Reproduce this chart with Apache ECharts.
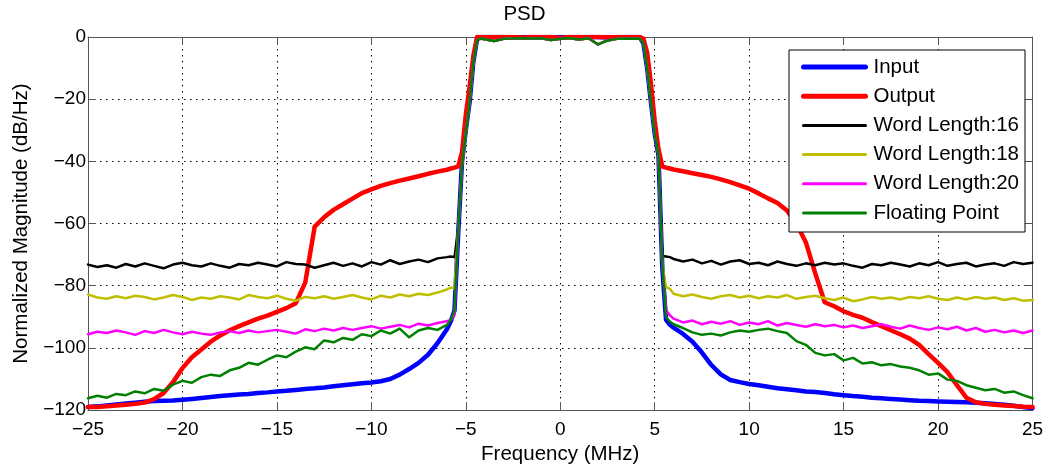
<!DOCTYPE html>
<html>
<head>
<meta charset="utf-8">
<script src="https://cdn.jsdelivr.net/npm/echarts@6/dist/echarts.min.js"></script>
<style>html,body{margin:0;padding:0;background:#fff}#c{width:1049px;height:470px}</style>
</head>
<body>
<div id="c"></div>
<script>
const freq = [
  -25,-24.5,-24,-23.5,-23,-22.5,-22,-21.5,-21,-20.5,-20,-19.5,-19,-18.5,-18,-17.5,-17,-16.5,-16,-15.5,
  -15,-14.5,-14,-13.5,-13,-12.5,-12,-11.5,-11,-10.5,-10,-9.5,-9,-8.5,-8,-7.5,-7,-6.5,-6,
  -5.8,-5.6,-5.4,-5.2,-5,-4.8,-4.6,-4.4,-4.2,-4,
  -3.5,-3,-2.5,-2,-1.5,-1,-0.5,0,0.5,1,1.5,2,2.5,3,3.5,
  4,4.2,4.4,4.6,4.8,5,5.2,5.4,5.6,5.8,
  6,6.5,7,7.5,8,8.5,9,9.5,10,10.5,11,11.5,12,12.5,13,13.5,14,14.5,15,15.5,
  16,16.5,17,17.5,18,18.5,19,19.5,20,20.5,21,21.5,22,22.5,23,23.5,24,24.5,25
];

const inputPSD = [
  -119,-118.8,-118.5,-118.2,-117.9,-117.6,-117.3,-117.1,-117,-116.9,-116.7,-116.4,-116.1,-115.8,-115.5,-115.2,-115,-114.8,-114.5,-114.3,
  -114,-113.8,-113.5,-113.2,-113,-112.7,-112.3,-112,-111.7,-111.4,-111.1,-110.7,-110,-108.6,-106.8,-104.8,-102.2,-98.5,-94,
  -91.5,-88,-63,-40,-30,-21,-8,-0.5,0,0,
  0,0,-0.2,0,0,-0.1,0,0,0,-0.1,0,0,-0.2,0,0,
  0,0,-2,-10,-21,-31,-38,-74,-91,-92.5,
  -93.5,-95.5,-98,-101.5,-105.5,-108.5,-110.3,-111,-111.6,-112,-112.5,-113,-113.3,-113.6,-114,-114.2,-114.5,-114.9,-115.2,-115.5,
  -115.7,-116,-116.2,-116.4,-116.6,-116.8,-117,-117.1,-117.2,-117.3,-117.4,-117.5,-117.6,-117.8,-118,-118.3,-118.6,-119,-119.4
];

const outputPSD = [
  -119,-119,-118.8,-118.5,-118.3,-118,-117.6,-116.5,-114.5,-111,-106.5,-103,-100.5,-98,-96,-94.3,-93,-91.8,-90.6,-89.6,
  -88.4,-87.2,-85.6,-79,-61,-58,-55.6,-53.8,-52,-50.2,-49,-47.9,-47,-46.2,-45.5,-44.8,-44,-43.3,-42.7,
  -42.3,-42,-41.6,-37,-25,-16,-6,0,0,0,
  0,0,0,-0.2,0,0,0,-0.3,0,0,0,0,0,-0.1,0,
  0,0,-0.5,-5,-15,-27,-36,-41.6,-42,-42.3,
  -42.6,-43.2,-43.8,-44.4,-45,-45.8,-46.7,-47.7,-48.8,-50.3,-51.9,-53.4,-55.8,-60,-66,-76,-85.3,-86.6,-88.2,-89.4,
  -90.3,-91.7,-93,-94.3,-95.6,-97,-99,-102,-104.8,-107.8,-112,-116,-117.5,-118,-118.3,-118.5,-118.7,-118.9,-119
];

const wl16PSD = [
  -73.2,-74,-73.4,-74.2,-73,-73.8,-72.8,-73.6,-74.4,-73.2,-72.6,-73.4,-73.8,-72.8,-73.6,-74.2,-73,-73.4,-72.6,-73.2,
  -73.8,-72.4,-73,-73.2,-74.2,-73.4,-72.6,-73.6,-72.8,-73.8,-72.4,-73.2,-71.8,-73,-72.2,-71.6,-72.4,-71.2,-70.8,
  -70.6,-70.8,-62,-41,-31,-21,-8,-1,-0.5,-0.7,
  -1.3,-0.6,-0.5,-0.4,-0.5,-0.4,-1.0,-0.6,-0.4,-0.8,-0.4,-2.4,-1.1,-0.6,-0.5,
  -0.6,-0.5,-2,-10,-21,-31,-38,-70.4,-70.6,-70.8,
  -71.4,-72.2,-71.6,-72.8,-72,-73.2,-72.2,-71.8,-73,-72.6,-73.4,-72.2,-73,-73.6,-72.8,-73.4,-72.6,-73.2,-72.8,-73.6,
  -74.2,-73,-73.4,-72.6,-73.2,-73.8,-72.8,-73.4,-72.4,-73.6,-73,-72.6,-73.8,-73.2,-72.8,-73.6,-72.4,-73,-72.6
];

const wl18PSD = [
  -82.8,-83.8,-84.2,-83.4,-84,-83.2,-83.6,-84.4,-83.8,-83,-83.6,-84.6,-83.8,-84.2,-83.4,-83.8,-84.4,-83,-83.6,-84,
  -83.2,-84.2,-84.8,-83.6,-84,-83.4,-84.2,-83.6,-83,-83.8,-84.4,-83.2,-83.8,-82.8,-83.4,-82.6,-83,-82.2,-81.2,
  -80.6,-80.8,-62,-41,-31,-21,-8,-1,-0.5,-0.7,
  -1.3,-0.6,-0.5,-0.4,-0.5,-0.4,-1.0,-0.6,-0.4,-0.8,-0.4,-2.4,-1.1,-0.6,-0.5,
  -0.6,-0.5,-2,-10,-21,-31,-38,-73,-80.4,-81,
  -82.6,-83.4,-82.8,-83.6,-84.2,-83.4,-83,-83.8,-83.2,-84,-83.4,-83.8,-83,-84.2,-83.6,-83.2,-84,-84.6,-83.8,-85,
  -84.4,-83.6,-84.2,-83.8,-84.4,-83.6,-84,-83.4,-84.2,-84.6,-83.8,-84.4,-83.6,-84.2,-83.8,-84.6,-84,-84.8,-84.6
];

const wl20PSD = [
  -95.6,-94.8,-95.2,-94.4,-95,-95.8,-94.6,-95.2,-94.2,-95,-95.6,-94.8,-95.4,-95.8,-95,-94.6,-95.2,-94.4,-95,-94.6,
  -94.2,-94.8,-95.4,-94,-94.6,-93.8,-94.4,-93.6,-94.2,-93.6,-93,-93.8,-93.2,-92.6,-93.4,-92.2,-92.8,-92,-91.4,
  -91,-89.5,-62,-41,-31,-21,-8,-1,-0.5,-0.7,
  -1.3,-0.6,-0.5,-0.4,-0.5,-0.4,-1.0,-0.6,-0.4,-0.8,-0.4,-2.4,-1.1,-0.6,-0.5,
  -0.6,-0.5,-2,-10,-21,-31,-38,-73,-87.8,-89.5,
  -90.6,-91.8,-91.2,-92.4,-91.6,-92.2,-91.4,-92.6,-91.8,-92.4,-91.4,-92.8,-92,-92.6,-93.2,-92.4,-93,-92.6,-93.4,-92.8,
  -93.6,-93,-92.4,-93.2,-93.8,-92.8,-93.6,-94.2,-93.4,-94,-93.2,-94.4,-93.6,-94.8,-94.2,-95,-94.4,-95.2,-94.4
];

const floatPSD = [
  -116.2,-115.4,-116,-114.8,-115.2,-114,-114.6,-113.2,-113.8,-111.8,-110.6,-111.2,-109.4,-108.6,-109,-107.2,-106.4,-104.8,-105.4,-103.8,
  -102.4,-103,-101.2,-99.8,-100.4,-97.6,-98.2,-96.8,-97.4,-95.6,-96.2,-94.4,-95.4,-93.8,-96.6,-94.4,-93.6,-94.2,-92.6,
  -91,-88,-62,-41,-31,-21,-8,-1,-0.5,-0.7,
  -1.3,-0.6,-0.5,-0.4,-0.5,-0.4,-1.0,-0.6,-0.4,-0.8,-0.4,-2.4,-1.1,-0.6,-0.5,
  -0.6,-0.5,-2,-10,-21,-31,-38,-73,-90,-91.5,
  -92.4,-93.6,-95,-95.8,-95.4,-96,-95,-94.4,-94.8,-94.2,-93.8,-94.6,-95.2,-97.8,-99,-101.6,-102.4,-102,-104,-103.2,
  -105,-104.6,-105.6,-105.2,-106,-106.4,-107.2,-108.6,-108.2,-110.2,-110.6,-112,-112.8,-113.6,-113.2,-114.4,-114,-115.2,-116.2
];

const seriesNames = ['Input', 'Output', 'Word Length:16', 'Word Length:18', 'Word Length:20', 'Floating Point'];
const seriesData = [inputPSD, outputPSD, wl16PSD, wl18PSD, wl20PSD, floatPSD];
const seriesColors = ['#0000ff', '#ff0000', '#000000', '#bfbf00', '#ff00ff', '#008000'];
const seriesWidths = [4.5, 4.5, 2.5, 2.5, 2.5, 2.5];
const legendWidths = [5, 5, 3, 3, 3, 3];

const FONT = '"Liberation Sans", Arial, Helvetica, sans-serif';
const fmtMinus = v => String(v).replace('-', '\u2212');

const chart = echarts.init(document.getElementById('c'), null, {renderer: 'canvas'});

const gridLine = {show: true, lineStyle: {color: '#000', width: 1, type: [1.5, 4.5]}};
const axisBase = {
  axisLine: {show: true, onZero: false, lineStyle: {color: '#555', width: 1}},
  axisTick: {show: true, inside: true, length: 8, lineStyle: {color: '#555', width: 1}}
};

chart.setOption({
  animation: false,
  backgroundColor: '#fff',
  title: {
    text: 'PSD', left: 'center', top: 4, padding: 0,
    textStyle: {fontFamily: FONT, fontSize: 20.5, fontWeight: 'normal', color: '#000'}
  },
  grid: {left: 88, right: 16.5, top: 37, bottom: 58.5, containLabel: false},
  legend: {
    orient: 'vertical', left: 789, top: 50,
    padding: [6, 6, 8, 12],
    itemWidth: 62, itemHeight: 14, itemGap: 7.2,
    borderColor: '#000', borderWidth: 1, backgroundColor: '#fff',
    textStyle: {fontFamily: FONT, fontSize: 20.5, color: '#000', lineHeight: 22, padding: [0, 0, 0, 3]},
    data: seriesNames.map((n, i) => ({
      name: n,
      lineStyle: {width: legendWidths[i], color: seriesColors[i]},
      itemStyle: {opacity: 0}
    }))
  },
  xAxis: [
    Object.assign({
      type: 'value', min: -25, max: 25, interval: 5, position: 'bottom',
      name: 'Frequency (MHz)', nameLocation: 'middle', nameGap: 32,
      nameTextStyle: {fontFamily: FONT, fontSize: 20.5, color: '#000'},
      axisLabel: {fontFamily: FONT, fontSize: 19, color: '#000', margin: 10, formatter: fmtMinus},
      splitLine: gridLine
    }, axisBase),
    Object.assign({
      type: 'value', min: -25, max: 25, interval: 5, position: 'top',
      axisLabel: {show: false}, splitLine: {show: false}
    }, axisBase)
  ],
  yAxis: [
    Object.assign({
      type: 'value', min: -120, max: 0, interval: 20, position: 'left',
      name: 'Normalized Magnitude (dB/Hz)', nameLocation: 'middle', nameGap: 55, nameRotate: 90,
      nameTextStyle: {fontFamily: FONT, fontSize: 20.5, color: '#000'},
      axisLabel: {fontFamily: FONT, fontSize: 19, color: '#000', margin: 2, formatter: fmtMinus},
      splitLine: gridLine
    }, axisBase),
    Object.assign({
      type: 'value', min: -120, max: 0, interval: 20, position: 'right',
      axisLabel: {show: false}, splitLine: {show: false}
    }, axisBase)
  ],
  series: seriesNames.map((n, i) => ({
    name: n, type: 'line', xAxisIndex: 0, yAxisIndex: 0,
    symbol: 'none', showSymbol: false, smooth: false, clip: true,
    lineStyle: {color: seriesColors[i], width: seriesWidths[i], join: 'round', cap: 'round'},
    itemStyle: {color: seriesColors[i]},
    data: freq.map((f, k) => [f, seriesData[i][k]])
  }))
});
</script>
</body>
</html>
